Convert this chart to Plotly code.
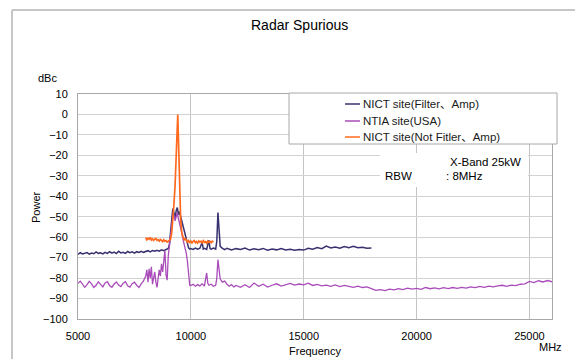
import plotly.graph_objects as go

# ---------------- data ----------------
# NICT site (Filter, Amp)
nict_f_freq = (list(range(5000, 9000, 100)) + list(range(9000, 10000, 50)) +
               [10000, 10100, 10200, 10300, 10400, 10500, 10550, 10600, 10700, 10800, 10850,
                10900, 11000, 11100, 11150, 11200, 11250, 11300, 11400, 11500] +
               list(range(11600, 18001, 200)))
nict_f_vals = [
    -68.4, -67.6, -68.2, -68.0, -67.5, -68.3, -67.8, -68.1, -67.2, -67.9,
    -67.6, -68.2, -67.4, -67.9, -67.1, -67.8, -67.3, -68.0, -66.9, -67.7,
    -67.4, -67.9, -67.0, -67.6, -67.2, -67.8, -67.1, -67.5, -66.9, -67.4,
    -67.0, -66.6, -67.2, -66.5, -66.9, -66.4, -66.8, -66.2, -66.6, -65.9,
    # 9000 - 9950
    -65.5, -63.5, -58.0, -52.0, -46.0, -48.0, -51.0, -47.0, -45.5, -49.0,
    -47.5, -50.0, -52.0, -54.0, -57.0, -58.5, -60.0, -63.0, -65.2, -65.8,
    # 10000 - 11500
    -65.6, -66.0, -65.3, -65.9, -65.4, -62.5, -65.8, -65.5, -66.0, -61.5, -65.6,
    -65.9, -65.3, -65.8, -62.0, -48.0, -58.0, -64.5, -65.5, -66.1,
    # 11600 - 18000
    -65.4, -66.2, -65.6, -66.0, -65.3, -66.3, -65.7, -66.1, -65.5, -66.4,
    -65.8, -66.2, -65.6, -66.3, -65.9, -66.4, -66.0, -66.3, -65.4, -65.9,
    -65.1, -65.6, -64.4, -65.3, -64.8, -65.4, -64.6, -65.1, -64.5, -65.2,
    -64.9, -65.4, -65.3,
]

# NTIA site (USA)
ntia_freq = (list(range(5000, 8000, 100)) + list(range(8000, 10000, 50)) +
             [10000, 10100, 10200, 10300, 10400, 10500, 10600, 10700, 10750, 10800,
              10900, 11000, 11100, 11150, 11200, 11250, 11300, 11400, 11500, 11600,
              11700, 11800, 11900, 12000] +
             list(range(12200, 26001, 200)))
ntia_vals = [
    -82.6, -81.5, -83.0, -84.5, -83.2, -81.6, -82.8, -84.6, -83.5, -81.8,
    -83.1, -84.3, -82.4, -81.7, -83.6, -84.5, -82.9, -81.9, -83.4, -84.2,
    -82.5, -81.8, -83.8, -84.4, -82.7, -82.0, -83.5, -84.6, -82.8, -81.4,
    # 8000 - 8950
    -79.0, -76.0, -82.0, -75.5, -80.0, -74.5, -83.0, -79.0, -77.0, -82.0,
    -84.5, -80.0, -76.0, -79.0, -73.0, -77.0, -71.5, -66.5, -78.5, -81.0,
    # 9000 - 9950
    -69.0, -64.0, -60.0, -55.0, -50.0, -49.0, -52.0, -50.0, -48.0, -51.0,
    -53.0, -55.0, -58.0, -61.0, -63.0, -66.0, -68.0, -72.0, -80.0, -83.5,
    # 10000 - 12000
    -83.6, -83.0, -84.0, -83.2, -83.8, -82.8, -83.9, -77.5, -82.5, -83.5,
    -83.0, -84.0, -83.5, -80.0, -71.0, -78.0, -80.5, -82.0, -81.5, -83.0,
    -84.0, -83.2, -84.3, -83.6,
    # 12200 - 26000
    -84.5, -83.2, -84.6, -82.4, -84.0, -83.0, -84.4, -83.5, -82.8, -83.9,
    -83.2, -82.6, -83.4, -82.9, -83.3, -82.5, -83.6, -83.1, -83.8, -83.4,
    -84.0, -83.3, -84.2, -83.6, -84.0, -84.5, -83.9, -84.6, -84.3, -85.3,
    -86.0, -85.6, -86.1, -85.4, -85.8, -85.2, -85.6, -84.9, -85.4, -85.0,
    -85.5, -84.6, -85.2, -84.8, -85.3, -84.7, -85.1, -84.6, -85.0, -84.5,
    -84.9, -84.3, -84.7, -84.1, -84.5, -83.9, -84.3, -83.8, -83.5, -84.0,
    -83.4, -83.7, -83.0, -82.8, -81.6, -82.2, -81.3, -81.9, -81.2, -81.8,
]

# NICT site (Not Filter, Amp)
nict_nf_freq = (list(range(8000, 9001, 50)) +
                [9100, 9150, 9200, 9250, 9300, 9350, 9400, 9420, 9440, 9470, 9500,
                 9550, 9600, 9650, 9700, 9750, 9800] +
                list(range(9850, 11001, 50)))
nict_nf_vals = [
    -60.2, -61.3, -60.5, -61.0, -60.1, -61.4, -60.8, -61.6, -61.0, -60.6,
    -61.5, -61.2, -61.9, -61.1, -61.6, -62.2, -61.3, -62.0, -61.7, -62.4, -62.0,
    # peak
    -61.0, -58.0, -52.0, -44.0, -35.0, -22.0, -6.0, 0.0, -8.0, -22.0, -38.0,
    -52.0, -58.0, -60.0, -61.5, -60.5, -62.0,
    # 9850 - 11000
    -62.6, -61.7, -62.5, -61.9, -62.8, -62.0, -61.6, -62.7, -62.1, -62.9,
    -61.8, -62.4, -62.0, -62.8, -61.7, -62.5, -62.2, -62.9, -61.9, -62.6,
    -62.1, -62.7, -62.0, -62.4,
]

series_names = ["NICT site(Filter、Amp)", "NTIA site(USA)", "NICT site(Not Fitler、Amp)"]
series_colors = ["#37316f", "#a94cb9", "#ff6a1f"]

x_ticks = [5000, 10000, 15000, 20000, 25000]
y_ticks = list(range(-100, 11, 10))

# ---------------- layout helpers ----------------
W, H = 575, 359
L, R, T, B = 78, 552, 94, 319


def px(x):
    return (x - L) / (R - L)


def py(y):
    return (B - y) / (B - T)


FONT = "Liberation Sans, Noto Sans CJK JP, sans-serif"

fig = go.Figure()
fig.add_trace(go.Scatter(x=nict_f_freq, y=nict_f_vals, mode="lines", name=series_names[0],
                         line=dict(color=series_colors[0], width=1.5)))
fig.add_trace(go.Scatter(x=ntia_freq, y=ntia_vals, mode="lines", name=series_names[1],
                         line=dict(color=series_colors[1], width=1.3)))
fig.add_trace(go.Scatter(x=nict_nf_freq, y=nict_nf_vals, mode="lines", name=series_names[2],
                         line=dict(color=series_colors[2], width=1.7)))

fig.update_layout(
    width=W, height=H,
    margin=dict(l=L, r=W - R, t=T, b=H - B),
    paper_bgcolor="white", plot_bgcolor="white",
    showlegend=False,
    font=dict(family=FONT, size=11, color="#000000"),
)
fig.update_xaxes(range=[5000, 26000], tickvals=x_ticks, ticktext=[str(v) for v in x_ticks],
                 showgrid=True, gridcolor="#c4c4c4", gridwidth=1,
                 showline=True, linecolor="#a8a8a8", linewidth=1, mirror=True,
                 zeroline=False, ticks="", ticklabelstandoff=7,
                 tickfont=dict(size=11))
fig.update_yaxes(range=[-100, 10], tickvals=y_ticks,
                 ticktext=[("−" + str(-v)) if v < 0 else str(v) for v in y_ticks],
                 showgrid=True, gridcolor="#d2d2d2", gridwidth=1,
                 showline=True, linecolor="#a8a8a8", linewidth=1, mirror=True,
                 zeroline=False, ticks="", ticklabelstandoff=7,
                 tickfont=dict(size=11))

shapes = []
annotations = []

# outer chart border
shapes.append(dict(type="line", xref="paper", yref="paper",
                   x0=px(12), x1=px(12), y0=py(H + 5), y1=py(10),
                   line=dict(color="#c6c6c6", width=2)))
shapes.append(dict(type="line", xref="paper", yref="paper",
                   x0=px(12), x1=px(W + 5), y0=py(10), y1=py(10),
                   line=dict(color="#c6c6c6", width=2)))

# legend box
shapes.append(dict(type="rect", xref="paper", yref="paper",
                   x0=px(289), x1=px(557), y0=py(144), y1=py(93),
                   fillcolor="white", line=dict(color="#a8a8a8", width=1), layer="above"))
for i, (nm, col) in enumerate(zip(series_names, series_colors)):
    yy = [104, 121, 137][i]
    shapes.append(dict(type="line", xref="paper", yref="paper",
                       x0=px(345), x1=px(360), y0=py(yy), y1=py(yy),
                       line=dict(color=col, width=1.5)))
    annotations.append(dict(text=nm, xref="paper", yref="paper", x=px(361), y=py(yy),
                            xanchor="left", yanchor="middle", showarrow=False,
                            font=dict(size=11.5, color="#1a1a1a")))

# RBW text box
shapes.append(dict(type="rect", xref="paper", yref="paper",
                   x0=px(380), x1=px(528), y0=py(187), y1=py(153),
                   fillcolor="white", line=dict(width=0), layer="above"))
annotations.append(dict(text="X-Band 25kW", xref="paper", yref="paper", x=px(485), y=py(162),
                        xanchor="center", yanchor="middle", showarrow=False,
                        font=dict(size=11.5)))
annotations.append(dict(text="RBW", xref="paper", yref="paper", x=px(383), y=py(176),
                        xanchor="left", yanchor="middle", showarrow=False,
                        font=dict(size=11.5)))
annotations.append(dict(text=": 8MHz", xref="paper", yref="paper", x=px(444), y=py(176),
                        xanchor="left", yanchor="middle", showarrow=False,
                        font=dict(size=11.5)))

# titles & units
annotations.append(dict(text="Radar Spurious", xref="paper", yref="paper", x=px(299), y=py(25),
                        xanchor="center", yanchor="middle", showarrow=False,
                        font=dict(size=14)))
annotations.append(dict(text="dBc", xref="paper", yref="paper", x=px(47), y=py(78),
                        xanchor="center", yanchor="middle", showarrow=False,
                        font=dict(size=11)))
annotations.append(dict(text="Power", xref="paper", yref="paper", x=px(36), y=py(207),
                        xanchor="center", yanchor="middle", showarrow=False, textangle=-90,
                        font=dict(size=11)))
annotations.append(dict(text="Frequency", xref="paper", yref="paper", x=px(315), y=py(351),
                        xanchor="center", yanchor="middle", showarrow=False,
                        font=dict(size=11)))
annotations.append(dict(text="MHz", xref="paper", yref="paper", x=px(550), y=py(347),
                        xanchor="center", yanchor="middle", showarrow=False,
                        font=dict(size=11)))

fig.update_layout(shapes=shapes, annotations=annotations)
fig.write_html("out.html")
